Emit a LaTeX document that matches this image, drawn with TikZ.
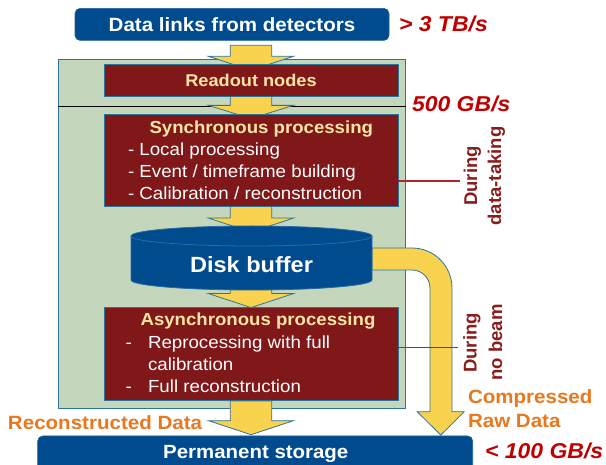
\documentclass[tikz,border=0pt]{standalone}
\usepackage{fontspec}
\setmainfont{Liberation Sans}[FakeStretch=1.07]
\newfontfamily\rotfont{Liberation Sans}
\usetikzlibrary{calc}
\definecolor{dblue}{HTML}{004B8D}
\definecolor{blueedge}{HTML}{1F5E9A}
\definecolor{cylrim}{HTML}{2A6AA6}
\definecolor{dred}{HTML}{801819}
\definecolor{bordc}{HTML}{2C7597}
\definecolor{sage}{HTML}{C4D7BC}
\definecolor{yel}{HTML}{F9D34F}
\definecolor{valred}{HTML}{C00000}
\definecolor{durred}{HTML}{8B1C1C}
\definecolor{linered}{HTML}{B5232A}
\definecolor{orng}{HTML}{E8781E}
\definecolor{ttlyel}{HTML}{FBE5A5}
\pgfdeclarelayer{bg}\pgfdeclarelayer{arr}
\pgfsetlayers{bg,arr,main}
\newcommand\yarrow[3]{%
  \draw[yarr] ($(#1)+(-20.8,0)$) -- ($(#2)+(-20.8,0)$) -- ($(#2)+(-42.4,0)$) -- (#3)
    -- ($(#2)+(42.4,0)$) -- ($(#2)+(20.8,0)$) -- ($(#1)+(20.8,0)$) -- cycle;}
\tikzset{
  yarr/.style={fill=yel, draw=bordc, line width=0.8pt, line join=miter},
  redbox/.style={draw=bordc, fill=dred, line width=0.8pt, inner sep=0pt, minimum width=294pt},
  bluebox/.style={draw=blueedge, fill=dblue, line width=0.6pt, rounded corners=5pt, inner sep=0pt},
  txt/.style={inner sep=0pt, outer sep=0pt},
  ttl/.style={txt, text=ttlyel, font=\fontsize{17.4}{20}\selectfont\bfseries},
  body/.style={txt, text=white, font=\fontsize{17.5}{20}\selectfont},
  val/.style={txt, text=valred, font=\fontsize{21.5}{24}\selectfont\bfseries\itshape},
  orl/.style={txt, text=orng, font=\fontsize{19.2}{22}\selectfont\bfseries},
  dur/.style={txt, text=durred, rotate=90, anchor=base, font=\rotfont\fontsize{18.5}{22}\selectfont\bfseries},
  redline/.style={draw=linered, line width=1.4pt},
}
\begin{document}
\begin{tikzpicture}[x=1pt,y=1pt]
\useasboundingbox (0,0) rectangle (606,-465);
\clip (0,0) rectangle (606,-465);
% green container
\begin{pgfonlayer}{bg}
\node[draw=bordc, fill=sage, line width=0.8pt, minimum width=347pt, minimum height=349pt, inner sep=0pt] (green) at (232,-233.5) {};
\draw[black, line width=0.9pt] (58,-106.7) -- (406,-106.7);
\end{pgfonlayer}
% boxes
\node[bluebox, minimum width=314pt, minimum height=32pt, text=white, font=\fontsize{19.2}{22}\selectfont\bfseries] (top) at (232,-24.4) {Data links from detectors};
\node[val, anchor=base west] (v1) at (399,-32) {> 3 TB/s};
\node[redbox, minimum height=32pt, text=ttlyel, font=\fontsize{17}{20}\selectfont\bfseries] (readout) at (251,-80) {Readout nodes};
\node[val, anchor=base west] (v2) at (412,-112) {500 GB/s};
\node[redbox, minimum height=92pt] (sync) at (251,-160) {};
\node[ttl, anchor=base] (synct) at (261.3,-134) {Synchronous processing};
\node[body, anchor=base west] (s1) at (128,-156) {- Local processing};
\node[body, anchor=base west] (s2) at (128,-178) {- Event / timeframe building};
\node[body, anchor=base west] (s3) at (128,-200) {- Calibration / reconstruction};
% disk buffer cylinder
\draw[fill=dblue, draw=cylrim, line width=0.8pt] (131,-236) -- (131,-280)
  arc[start angle=180, end angle=360, x radius=120.5, y radius=10] -- (372,-236)
  arc[start angle=0, end angle=180, x radius=120.5, y radius=10] -- cycle;
\draw[cylrim, line width=0.8pt] (131,-236) arc[start angle=180, end angle=360, x radius=120.5, y radius=10];
\node[txt, text=white, font=\fontsize{22}{26}\selectfont\bfseries, anchor=base] (disk) at (251.5,-272.7) {Disk buffer};
\coordinate (diskbot) at (251,-280);
\node[redbox, minimum height=93.7pt] (async) at (251,-353.85) {};
\node[ttl, anchor=base] (asynct) at (258,-326) {Asynchronous processing};
\node[body, anchor=base west] (d1) at (125.5,-349) {-};
\node[body, anchor=base west] (a1) at (148,-349) {Reprocessing with full};
\node[body, anchor=base west] (a2) at (148,-371) {calibration};
\node[body, anchor=base west] (d2) at (125.5,-393) {-};
\node[body, anchor=base west] (a3) at (148,-393) {Full reconstruction};
\node[bluebox, minimum width=435pt, minimum height=44pt] (perm) at (255.2,-458) {};
\node[txt, text=white, font=\fontsize{19.1}{22}\selectfont\bfseries, anchor=base] (permt) at (255.8,-458) {Permanent storage};
\node[val, anchor=base west] (v3) at (485,-459) {< 100 GB/s};
\node[orl, anchor=base west] (recd) at (8,-430) {Reconstructed Data};
\node[orl, anchor=base west] (comp1) at (468,-404) {Compressed};
\node[orl, anchor=base west] (comp2) at (468,-428) {Raw Data};
% during labels
\node[dur] (dur1) at (477,-176) {During};
\node[dur] (dur2) at (501,-176) {data-taking};
\node[dur] (dur3) at (476.5,-343) {During};
\node[dur] (dur4) at (502,-342.5) {no beam};
\coordinate (c1) at (460,-181);
\coordinate (c2) at (458,-347.7);
\draw[redline] (sync.east |- c1) -- (c1);
\draw[redline] (async.east |- c2) -- (c2);
% arrows
\begin{pgfonlayer}{arr}
\coordinate (a1s) at ($(readout.north)+(0,18.3)$);
\coordinate (a1b) at ($(readout.north)+(0,7.3)$);
\coordinate (a1t) at ($(readout.north)+(0,-6.7)$);
\yarrow{a1s}{a1b}{a1t}
\coordinate (a2b) at ($(readout.south)+(0,-9)$);
\coordinate (a2t) at ($(sync.north)+(0,-5)$);
\yarrow{readout.south}{a2b}{a2t}
\coordinate (a3b) at ($(sync.south)+(0,-11.7)$);
\coordinate (a3t) at ($(sync.south)+(0,-25.7)$);
\yarrow{sync.south}{a3b}{a3t}
\coordinate (a4b) at ($(async.north)+(0,13)$);
\coordinate (a4t) at ($(async.north)+(0,-1)$);
\yarrow{diskbot}{a4b}{a4t}
\coordinate (a5s) at (async.south);
\coordinate (a5b) at ($(async.south |- perm.north)+(0,15)$);
\coordinate (a5t) at ($(async.south |- perm.north)+(0,1)$);
\yarrow{a5s}{a5b}{a5t}
% bent arrow disk -> permanent storage
\draw[yarr] (372,-248) -- (412,-248) .. controls (434.1,-248) and (452,-265.9) .. (452,-288)
  -- (452,-411.7) -- (464.2,-411.7) -- (440.8,-435) -- (417.2,-411.7) -- (430,-411.7)
  -- (430,-288) .. controls (430,-278.06) and (421.94,-270) .. (412,-270) -- (372,-270) -- cycle;
\end{pgfonlayer}
\end{tikzpicture}
\end{document}
